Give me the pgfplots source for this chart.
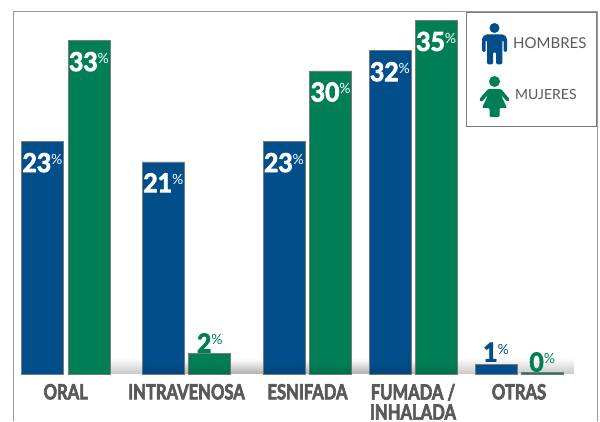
\documentclass[border=0pt]{standalone}
\usepackage{pgfplots}
\pgfplotsset{compat=1.18}
\usepackage{fontspec}
\setmainfont{Lato}
\newfontfamily\catfont[FakeStretch=0.79,FakeBold=3,BoldFont={Lato Bold},BoldFeatures={FakeStretch=0.79,FakeBold=3}]{Lato}
\newfontfamily\numfont[FakeStretch=0.95,FakeBold=3,BoldFont={Lato Bold},BoldFeatures={FakeStretch=0.95,FakeBold=3}]{Lato}
\usetikzlibrary{fadings}
\definecolor{cblue}{HTML}{004F8A}
\definecolor{cgreen}{HTML}{007F56}
\definecolor{cgrey}{HTML}{595959}
\definecolor{cedge}{HTML}{7A7A7A}
\definecolor{cframe}{HTML}{9A9A9A}
\tikzfading[name=upfade,top color=transparent!100,bottom color=transparent!0]
\newcommand{\pct}[1]{{\numfont\fontsize{26}{26}\selectfont\bfseries #1}\raisebox{7.5pt}{\fontsize{14}{14}\selectfont\%}}
\begin{document}
\begin{tikzpicture}
\path[use as bounding box] (-13.5pt,-47pt) rectangle (586.5pt,374pt);
\begin{scope}[x=1pt,y=-1pt,shift={(-13.5pt,374pt)}]
  % soft floor shadow behind the bars
  \fill[black,opacity=0.22,path fading=upfade] (70,358) rectangle (575,374);
\end{scope}
\begin{axis}[
  at={(0pt,0pt)},anchor=south west,
  scale only axis,width=583.5pt,height=362pt,
  xmin=13.5,xmax=597,ymin=0,ymax=35.84,
  axis line style={draw=none},
  major tick length=0pt,
  ytick=\empty,
  xtick={65.75,186.5,307.5,413,519},
  xticklabels={ORAL,INTRAVENOSA,ESNIFADA,{FUMADA /\\INHALADA},OTRAS},
  xticklabel style={align=center,anchor=north,yshift=-6.5pt,text=cgrey,
    font=\catfont\bfseries\fontsize{21}{20}\selectfont},
  ybar,/pgf/bar shift=0pt,bar width=42pt,
  clip=false,
  point meta=explicit symbolic,
  nodes near coords={\pct{\pgfplotspointmeta}},
  every node near coord/.style={inner sep=0pt},
]
\addplot[fill=cblue,draw=cedge,line width=0.7pt,
  nodes near coords align={anchor=north},
  every node near coord/.append style={text=white,yshift=-11pt}]
  coordinates {(42.5,23)[23] (163.3,21)[21] (284,23)[23] (390,32)[32]};
\addplot[fill=cgreen,draw=cedge,line width=0.7pt,
  nodes near coords align={anchor=north},
  every node near coord/.append style={text=white,yshift=-11pt}]
  coordinates {(89,33)[33] (330.7,30)[30] (436.2,35)[35]};
\addplot[fill=cgreen,draw=cedge,line width=0.7pt,
  every node near coord/.append style={text=cgreen,anchor=south,yshift=1pt}]
  coordinates {(209.8,2)[2]};
\addplot[fill=cblue,draw=cedge,line width=0.7pt,
  every node near coord/.append style={text=cblue,anchor=south,yshift=2pt}]
  coordinates {(496,1)[1]};
\addplot[fill=cgreen,draw=cedge,line width=0.7pt,
  every node near coord/.append style={text=cgreen,anchor=south,yshift=0pt}]
  coordinates {(542.2,0.2)[0]};
\end{axis}
\begin{scope}[x=1pt,y=-1pt,shift={(-13.5pt,374pt)}]
  % darkening at the foot of the bars
  \fill[black,opacity=0.12,path fading=upfade] (142,362) rectangle (458,374);
  % frame
  \draw[cframe,line width=1pt] (13.5,421)--(13.5,12)--(597,12)--(597,421);
  % legend box
  \draw[cedge,line width=1pt,fill=white] (466.5,12.5) rectangle (596.5,127);
  % man
  \fill[cblue] (494.5,28) circle (5);
  \fill[cblue,rounded corners=1.5pt] (482,52)--(482,38)--(485,34.5)--(504,34.5)--(507,38)--(507,52)--(503.7,52)--(503.7,40)--(502.3,40)--(502.3,64.5)--(496,64.5)--(496,52)--(493,52)--(493,64.5)--(487,64.5)--(487,40)--(485.5,40)--(485.5,52)--cycle;
  \node[text=cgrey,anchor=west,inner sep=0pt,font=\fontsize{15}{15}\selectfont] at (513,43) {HOMBRES};
  % woman
  \fill[cgreen] (494.5,81.5) circle (5.5);
  \fill[cgreen,rounded corners=1.2pt] (488,89)--(501,89)--(510,99.5)--(507.5,102)--(501,95)--(507,108)--(499.5,108)--(499.5,117)--(489.5,117)--(489.5,108)--(482,108)--(488,95)--(481.5,102)--(479,99.5)--cycle;
  \node[text=cgrey,anchor=west,inner sep=0pt,font=\fontsize{14}{14}\selectfont] at (515,94) {MUJERES};
\end{scope}
\end{tikzpicture}
\end{document}
